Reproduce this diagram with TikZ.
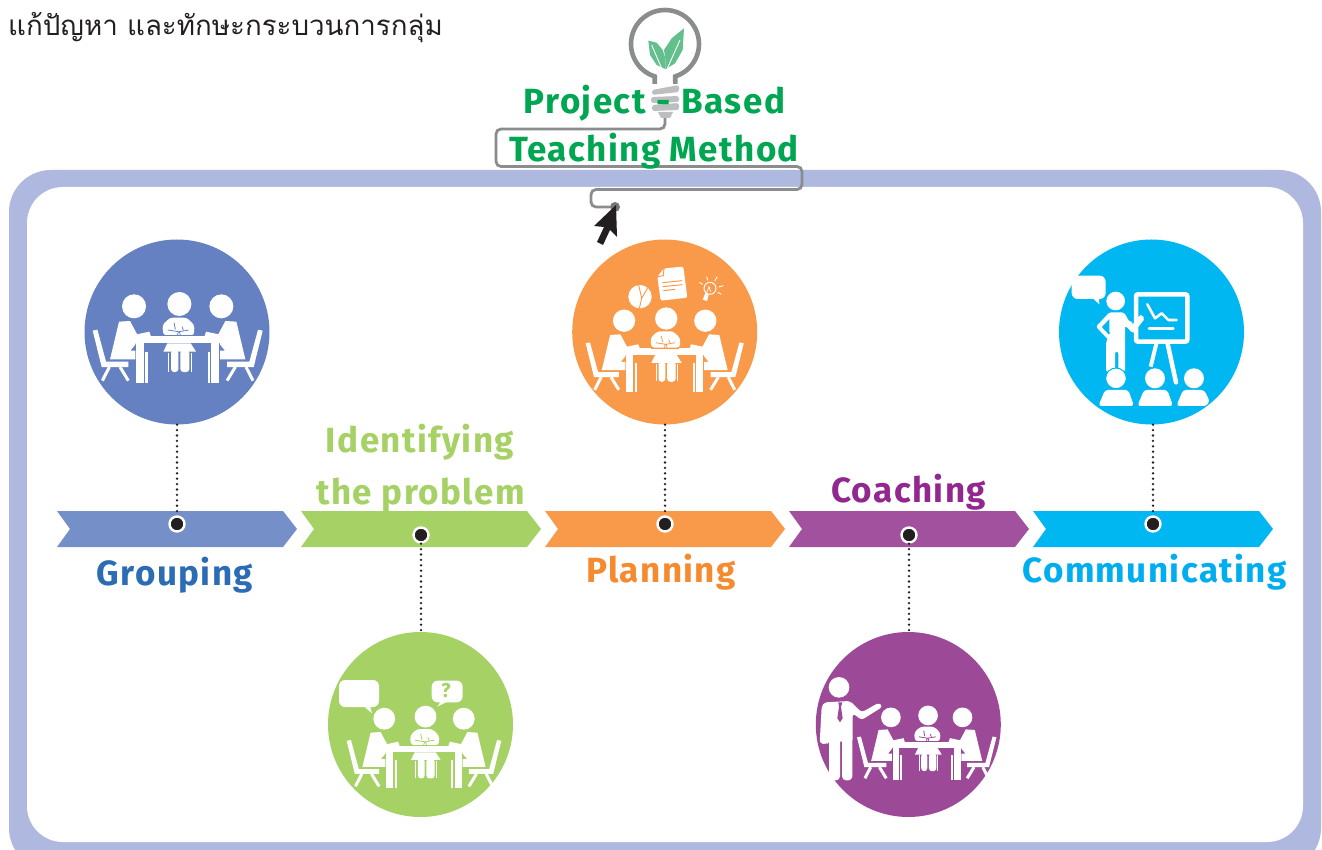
\documentclass[tikz,border=0pt]{standalone}
\usepackage{fontspec}
\setmainfont{Fira Sans}[LetterSpace=4]
\newfontfamily\thaifont[Script=Thai]{Loma}
\definecolor{framec}{HTML}{AFB9DF}
\definecolor{wirec}{HTML}{8A8C8E}
\definecolor{screwc}{HTML}{BCBEC0}
\definecolor{leafc}{HTML}{63BF8C}
\definecolor{titlec}{HTML}{00A651}
\definecolor{inkc}{HTML}{231F20}
\definecolor{cblue}{HTML}{6681C1}
\definecolor{cgreen}{HTML}{A5D165}
\definecolor{corange}{HTML}{F99A4A}
\definecolor{cpurple}{HTML}{9C4A98}
\definecolor{ccyan}{HTML}{00B7F1}
\definecolor{ablue}{HTML}{7590C8}
\definecolor{apurple}{HTML}{A2519F}
\definecolor{tblue}{HTML}{2B6CB5}
\definecolor{torange}{HTML}{F58A2E}
\definecolor{tpurple}{HTML}{92278F}
\definecolor{tcyan}{HTML}{00AEEF}
\tikzset{
  circ/.style={circle,minimum size=185pt,inner sep=0pt,draw=none},
  dotnode/.style={circle,fill=inkc,draw=white,line width=2.4pt,minimum size=15pt,inner sep=0pt},
  dotconn/.style={inkc,line width=2.6pt,line cap=round,dash pattern=on 0pt off 5.4pt},
  biglabel/.style={anchor=base,inner sep=0pt,font=\fontsize{35}{35}\selectfont\bfseries},
  wire/.style={wirec,line width=2.8pt,rounded corners=5pt},
  wl/.style={white,line width=3pt},
}
\newcommand\chev[2]{\fill[#2] (#1,511)--(#1+226,511)--(#1+240,529)--(#1+226,547)--(#1,547)--(#1+13,529)--cycle;}
\newcommand\halfscene{%
  \fill[white] (147,275)--(180,273)--(205,320)--(195,345)--(181,362)--(196,362)--(196,388)--(120,388)--cycle;
  \fill[white] (192,229) circle (36);
  \fill[white] (68,302)--(82,299)--(108,395)--(175,395)--(175,411)--(95,411)--cycle;
  \draw[wl] (118,411)--(97,452) (150,411)--(175,452);
  \fill[white] (186,316)--(238,305)--(243,320)--(190,325)--cycle;
  \fill[white] (198,340) rectangle (222,458);
  \fill[white] (226,365) rectangle (233,458);
}
\newcommand\scene[4]{%
\begin{scope}[shift={(#1,#2)},scale=#3/3,shift={(-323,-318)}]
  \halfscene
  \begin{scope}[shift={(646,0)},xscale=-1]\halfscene\end{scope}
  \fill[white] (190,318) rectangle (456,340);
  \fill[white] (328,222) circle (36);
  \fill[white,rounded corners=3pt] (300,263)--(350,263)--(373,285)--(372,316)--(280,316)--(277,285)--cycle;
  \fill[white] (292,340)--(362,340)--(378,365)--(280,365)--cycle;
  \fill[white,rounded corners=3pt] (303,360)--(325,360)--(325,426)--(303,426)--cycle;
  \fill[white,rounded corners=3pt] (331,360)--(358,360)--(358,426)--(331,426)--cycle;
  \fill[white] (294,368) rectangle (298,425);
  \fill[white] (362,368) rectangle (366,425);
  \draw[#4,line width=.8pt] (294,300)--(325,305)--(322,316) (356,300)--(328,305)--(331,316) (312,278)--(316,298) (336,290)--(340,300);
  \draw[#4,line width=.8pt] (280,317)--(370,317);
\end{scope}}
\begin{document}
\begin{tikzpicture}[x=1pt,y=-1pt]
\useasboundingbox (0,0) rectangle (1322,850);
\clip (0,0) rectangle (1322,850);
\fill[white] (0,0) rectangle (1322,850);
% frame
\fill[framec,rounded corners=42pt] (9,170) rectangle (1321,870);
\fill[white,rounded corners=36pt] (27,187) rectangle (1303,842);
% title text
\node[anchor=base west,inner sep=0pt,text=inkc,font=\thaifont\fontsize{27.7}{28}\selectfont] (thai) at (8,36) {แก้ปัญหา และทักษะกระบวนการกลุ่ม};
% wire
\coordinate (wirestart) at (665,118);
\node[circle,fill=wirec!85!black,minimum size=10pt,inner sep=0pt] (wireend) at (615,207) {};
\draw[wire] (wirestart)--(665,129)--(496,129)--(496,166.5)--(802,166.5)--(802,189.5)--(591,189.5)--(591,207)--(wireend);
% bulb
\draw[wirec,line width=4.6pt] (654.7,84)--(654.7,76.4) arc[start angle=107.6,end angle=432.4,radius=34]--(675.3,84);
\fill[screwc,rounded corners=2.5pt] (652,90)--(679,85)--(679,92)--(652,95)--cycle;
\fill[screwc,rounded corners=2.5pt] (651,97)--(679,96)--(679,102)--(651,103)--cycle;
\fill[screwc,rounded corners=2.5pt] (652,105)--(679,103)--(679,110)--(652,111)--cycle;
\fill[screwc] (658,112)--(673,112)--(670,118)--(661,118)--cycle;
\begin{scope}[shift={(480,0)},scale=1/3]
  \fill[leafc] (505,122)--(530,128)--(548,150)--(556,175)--(556,207)--(530,195)--(510,165)--cycle;
  \fill[leafc] (612,85)--(608,150)--(585,190)--(556,208)--(556,175)--(552,150)--(575,115)--cycle;
  \draw[white,line width=.9pt] (515,135)--(545,205) (600,120)--(562,205);
\end{scope}
% heading
\node[biglabel,text=titlec] (h1) at (654.5,113.5) {Project\hspace{11pt}-\hspace{11pt}Based};
\node[biglabel,text=titlec] (h2) at (654,161.5) {Teaching Method};
% cursor
\fill[inkc] (616,205)--(594,226)--(604,227)--(597,242)--(603,245)--(610,230)--(617,237)--cycle;
% chevrons
\chev{57}{ablue}\chev{301}{cgreen}\chev{545}{corange}\chev{789}{apurple}\chev{1033}{ccyan}
% labels
\node[biglabel,text=tblue] (l1) at (175,585) {Grouping};
\node[biglabel,text=cgreen] (l2a) at (420,452) {Identifying};
\node[biglabel,text=cgreen] (l2b) at (420.5,504) {the problem};
\node[biglabel,text=torange] (l3) at (661,582.5) {Planning};
\node[biglabel,text=tpurple] (l4) at (908.5,502.5) {Coaching};
\node[biglabel,text=tcyan] (l5) at (1154.5,582.5) {Communicating};
% circles
\node[circ,fill=cblue] (c1) at (177,332) {};
\node[circ,fill=cgreen] (c2) at (420.5,724.5) {};
\node[circ,fill=corange] (c3) at (664.7,332) {};
\node[circ,fill=cpurple] (c4) at (908.3,724.5) {};
\node[circ,fill=ccyan] (c5) at (1151.5,332) {};
% dots
\node[dotnode] (d1) at (177,524) {};
\node[dotnode] (d2) at (421,535) {};
\node[dotnode] (d3) at (665,524) {};
\node[dotnode] (d4) at (909,535) {};
\node[dotnode] (d5) at (1153,524) {};
\draw[dotconn] (d1 |- c1.south)--(d1.north);
\draw[dotconn] (d2.south)--(d2 |- c2.north);
\draw[dotconn] (d3 |- c3.south)--(d3.north);
\draw[dotconn] (d4.south)--(d4 |- c4.north);
\draw[dotconn] (d5 |- c5.south)--(d5.north);
% people at tables
\scene{177.7}{336}{1}{cblue}
\scene{664.7}{348.3}{0.93}{corange}
\scene{424}{745.7}{0.91}{cgreen}
\scene{926.7}{741.7}{0.82}{cpurple}
% planning extras
\begin{scope}[shift={(560,235)},scale=1/3]
  \fill[white] (240,185) circle (35);
  \draw[corange,line width=.9pt] (236,150)--(245,190)--(238,220) (245,190)--(265,155);
  \fill[white,rounded corners=2pt] (312,100)--(370,95)--(382,188)--(302,197)--(292,125)--cycle;
  \draw[corange,line width=1pt] (312,100)--(310,122)--(292,125);
  \draw[corange,line width=1pt] (307,143)--(366,137) (308,155)--(367,149) (310,167)--(345,163);
  \draw[white,line width=1pt] (450,160) circle (18);
  \fill[white] (437,172)--(446,180)--(441,198)--(428,194)--cycle;
  \draw[white,line width=.9pt] (418,142)--(428,148) (440,125)--(443,136) (472,125)--(464,138) (490,152)--(476,156) (484,178)--(473,172);
  \draw[white,line width=.7pt] (438,178)--(447,155)--(452,170);
\end{scope}
% green extras
\begin{scope}[shift={(320,625)},scale=1/3]
  \fill[white,rounded corners=6pt] (57,165) rectangle (177,246);
  \fill[white] (132,244)--(156,265)--(150,244)--cycle;
  \fill[white,rounded corners=6pt] (335,167) rectangle (428,232);
  \fill[white] (362,230)--(352,245)--(382,230)--cycle;
  \node[text=cgreen,font=\fontsize{20}{20}\selectfont\bfseries,inner sep=0pt] (qm) at (378,198) {?};
\end{scope}
% teacher
\begin{scope}[shift={(805,625)},scale=1/3]
  \fill[white] (102,187) circle (31);
  \fill[white,rounded corners=3pt] (58,232)--(135,228)--(170,262)--(222,233)--(233,245)--(170,285)--(143,265)--(143,350)--(70,350)--(65,358)--(44,355)--(50,245)--cycle;
  \fill[white,rounded corners=4pt] (72,330)--(105,330)--(105,466)--(72,466)--cycle;
  \fill[white,rounded corners=4pt] (111,330)--(142,330)--(142,466)--(111,466)--cycle;
  \fill[cpurple] (100,232)--(112,232)--(108,245)--(113,280)--(105,292)--(97,280)--(102,245)--cycle;
\end{scope}
% presenter
\begin{scope}[shift={(1050,235)},scale=1/3]
  \fill[white,rounded corners=6pt] (65,122) rectangle (167,192);
  \fill[white] (128,190)--(148,208)--(147,190)--cycle;
  \fill[white] (197,198) circle (28);
  \fill[white,rounded corners=2pt] (178,232)--(222,232)--(245,272)--(272,238)--(285,250)--(250,295)--(225,272)--(225,410)--(205,410)--(205,350)--(195,350)--(195,410)--(168,410)--(168,322)--(178,300)--cycle;
  \draw[white,line width=4.5pt,line join=round,line cap=round] (180,240)--(147,275)--(182,312);
  \draw[ccyan,line width=1.8pt] (174,265)--(160,277)--(178,296);
  \fill[white] (235,256)--(247,262)--(250,292)--(240,288)--cycle;
  \draw[white,line width=4.5pt,rounded corners=2pt] (258,178) rectangle (412,320);
  \draw[white,line width=2.6pt,line cap=round,line join=round] (292,208)--(315,250)--(335,235)--(355,255)--(380,255);
  \draw[white,line width=2.6pt,line cap=round] (297,280)--(370,280);
  \draw[white,line width=4pt] (320,322)--(302,395);
  \draw[white,line width=4.5pt,line cap=round] (352,322)--(378,442);
  \fill[white,draw=ccyan,line width=1pt] (198,430) circle (31);
  \fill[white] (315,430) circle (30) (432,430) circle (30);
  \fill[white,rounded corners=3pt] (165,465)--(235,465)--(252,513)--(145,513)--cycle;
  \fill[white,rounded corners=3pt] (282,465)--(352,465)--(369,513)--(262,513)--cycle;
  \fill[white,rounded corners=3pt] (399,465)--(462,465)--(479,497)--(470,513)--(379,513)--cycle;
\end{scope}
\end{tikzpicture}
\end{document}
